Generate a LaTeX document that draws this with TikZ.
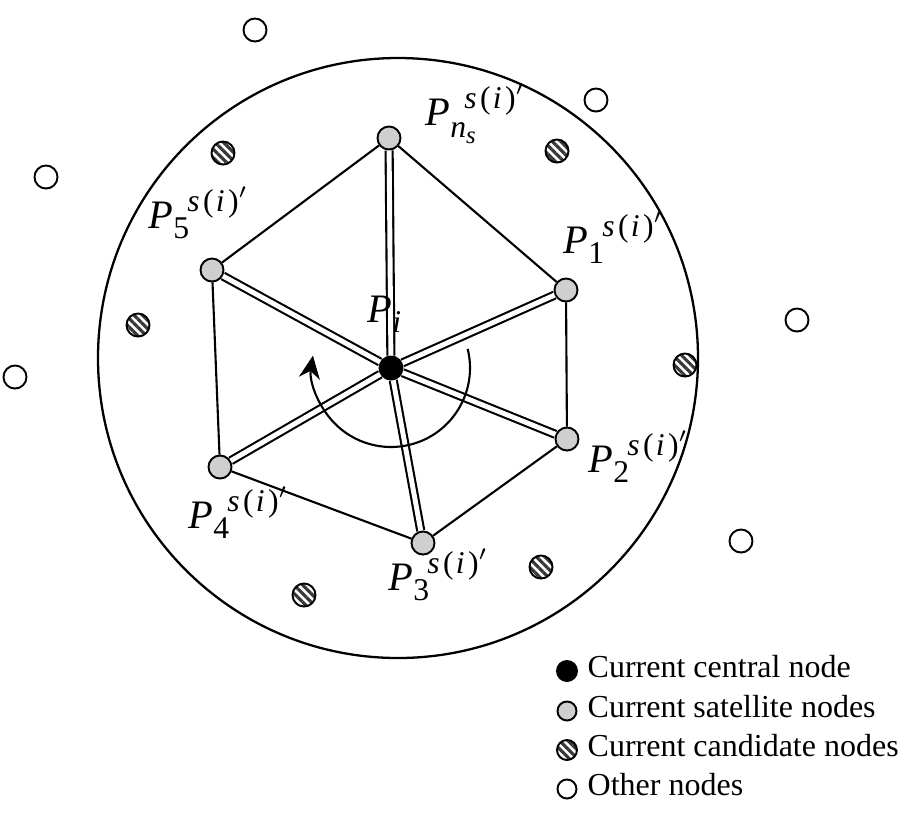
\documentclass[tikz,border=0pt]{standalone}
\usepackage{fontspec}
\setmainfont{Liberation Serif}
\usetikzlibrary{arrows.meta, patterns.meta}
\definecolor{satFill}{HTML}{CFCFCF}
\definecolor{candStripe}{HTML}{383838}
\newcommand{\scr}{\fontsize{9}{10}\selectfont}
\newcommand{\supsi}{\raisebox{4.6pt}{\scr\textit{s}\kern1pt(\kern0.6pt\textit{i}\kern1pt)$'$}}
\newcommand{\satlab}[1]{\makebox[11pt][l]{\textit{P}\raisebox{-2.9pt}{\scr #1}}\supsi}
\tikzset{
  clusterfig/.style={x=0.01cm, y=-0.01cm, >={Stealth[length=6.5pt, width=6pt]}},
  plainnode/.style={circle, draw, line width=0.55pt, minimum size=0.23cm, inner sep=0pt},
  centernode/.style={plainnode, fill=black},
  satnode/.style={plainnode, fill=satFill},
  candnode/.style={plainnode, pattern={Lines[angle=-45, distance=1.7pt, line width=0.9pt]}, pattern color=candStripe},
  ring/.style={line width=0.65pt},
  hexedge/.style={line width=0.6pt},
  spoke/.style={line width=0.6pt, double, double distance=1.4pt},
  turnarrow/.style={line width=0.6pt, ->},
  plabel/.style={anchor=base west, inner sep=0pt, font=\fontsize{11.5}{13}\selectfont},
  legtext/.style={anchor=base west, inner sep=0pt, font=\fontsize{9.1}{11}\selectfont},
}
\begin{document}
\begin{tikzpicture}[clusterfig]
  \useasboundingbox (0,0) rectangle (905,832);
  % transmission range of the central node
  \draw[ring] (398,358) circle[radius=300];
  % central and satellite nodes
  \node[centernode] (ctr) at (391,368) {};
  \node[satnode] (sat1) at (566,290) {};
  \node[satnode] (sat2) at (567,439) {};
  \node[satnode] (sat3) at (423,543) {};
  \node[satnode] (sat4) at (220,467) {};
  \node[satnode] (sat5) at (212,270) {};
  \node[satnode] (satN) at (389,138) {};
  % candidate nodes
  \node[candnode] (cand1) at (223,153) {};
  \node[candnode] (cand2) at (557,151) {};
  \node[candnode] (cand3) at (138,325) {};
  \node[candnode] (cand4) at (685,365) {};
  \node[candnode] (cand5) at (541,567) {};
  \node[candnode] (cand6) at (304,595) {};
  % other nodes
  \node[plainnode] (oth1) at (255,30) {};
  \node[plainnode] (oth2) at (596,100) {};
  \node[plainnode] (oth3) at (46,177) {};
  \node[plainnode] (oth4) at (797,320) {};
  \node[plainnode] (oth5) at (15,377) {};
  \node[plainnode] (oth6) at (741,541) {};
  % polygon of satellites
  \draw[hexedge] (satN) -- (sat1) -- (sat2) -- (sat3) -- (sat4) -- (sat5) -- (satN);
  \foreach \s in {sat1,sat2,sat3,sat4,sat5,satN}
    \draw[spoke] (ctr) -- (\s);
  \draw[turnarrow] (ctr) ++(-14:79) arc[start angle=-14, end angle=189, radius=79];
  % labels
  \node[plabel] (labN) at (425,125) {\makebox[11pt][l]{\textit{P}\raisebox{-3.6pt}{\scr\textit{n}\raisebox{-1.6pt}{\fontsize{7}{8}\selectfont\textit{s}}}}\supsi};
  \node[plabel] (lab1) at (563,253) {\satlab{1}};
  \node[plabel] (lab2) at (588,472) {\satlab{2}};
  \node[plabel] (lab3) at (388,590) {\satlab{3}};
  \node[plabel] (lab4) at (188,528) {\satlab{4}};
  \node[plabel] (lab5) at (148,228) {\satlab{5}};
  \node[plabel] (labC) at (367,322) {\textit{P}\raisebox{-2.9pt}{\scr\textit{i}}};
  % legend
  \node[centernode, minimum size=0.2cm] (keyC) at (567,671) {};
  \node[satnode, minimum size=0.19cm] (keyS) at (567,711) {};
  \node[candnode, minimum size=0.2cm] (keyD) at (567,750) {};
  \node[plainnode, minimum size=0.19cm] (keyO) at (567,789) {};
  \node[legtext] (txtC) at (587,677) {Current central node};
  \node[legtext] (txtS) at (587,717) {Current satellite nodes};
  \node[legtext] (txtD) at (587,756) {Current candidate nodes};
  \node[legtext] (txtO) at (587,795) {Other nodes};
\end{tikzpicture}
\end{document}
